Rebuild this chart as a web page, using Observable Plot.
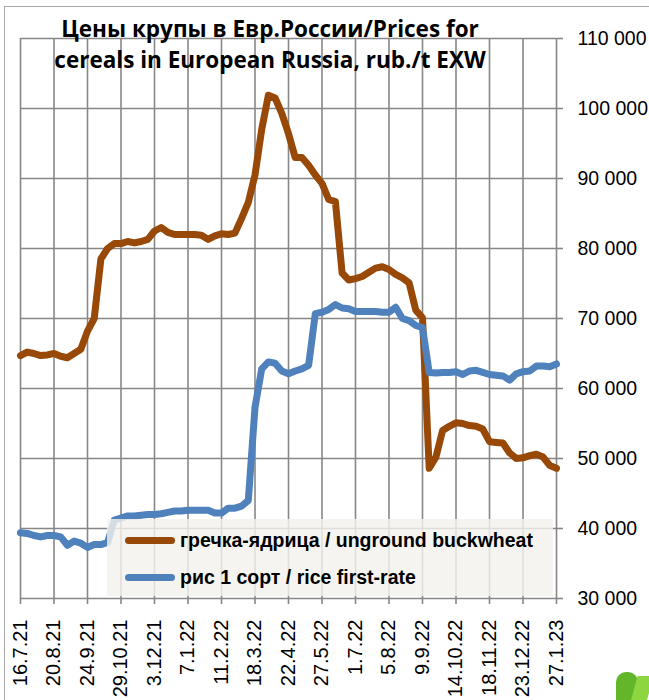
<!DOCTYPE html>
<html>
<head>
<meta charset="utf-8">
<script src="https://cdn.jsdelivr.net/npm/d3@7"></script>
<script src="https://cdn.jsdelivr.net/npm/@observablehq/plot@0.6"></script>
<style>
  html, body { margin: 0; padding: 0; background: #fff; }
  #wrap { position: relative; width: 649px; height: 700px; overflow: hidden; }
  #frame { position: absolute; left: 4px; top: 6px; width: 700px; height: 760px; border: 1.5px solid #a9a9a9; box-sizing: border-box; }
  #chart { position: absolute; left: 0; top: 0; }
  #title { position: absolute; left: 0; top: 13px; width: 540px; text-align: center; font-family: "Open Sans", sans-serif; font-weight: 700; font-size: 22.5px; line-height: 31px; color: #000; white-space: nowrap; }
  #legend { position: absolute; left: 107px; top: 519px; width: 446px; height: 77px; background: rgba(243,242,237,0.82); font-family: "Liberation Sans", Arial, sans-serif; font-weight: 700; font-size: 19.5px; color: #000; }
  .item { position: absolute; left: 18px; height: 22px; display: flex; align-items: center; white-space: nowrap; }
  .sw { width: 50px; height: 7px; border-radius: 4px; margin-right: 5px; }
  #logo1 { position: absolute; left: 616px; top: 672px; width: 22px; height: 30px; border-radius: 10px 10px 0 0; background: #63b52a; }
  #logo2 { position: absolute; left: 634px; top: 676px; width: 16px; height: 26px; background: #8dd63f; transform: skewX(-15deg); }
</style>
</head>
<body>
<div id="wrap">
  <div id="frame"></div>
  <div id="chart"></div>
  <div id="title">Цены крупы в Евр.России/Prices for<br>cereals in European Russia, rub./t EXW</div>
  <div id="legend"></div>
  <div id="logo1"></div>
  <div id="logo2"></div>
</div>
<script>
// x tick labels (every 5 weeks)
const tickLabels = ["16.7.21","20.8.21","24.9.21","29.10.21","3.12.21","7.1.22","11.2.22","18.3.22","22.4.22","27.5.22","1.7.22","5.8.22","9.9.22","14.10.22","18.11.22","23.12.22","27.1.23"];

// weekly prices, rub./t
const buckwheat = [64700,65200,65000,64700,64800,65000,64600,64400,65000,65600,
  68200,70000,78500,80000,80700,80700,81000,80800,81000,81300,
  82500,83000,82300,82000,82000,82000,82000,81900,81300,81800,
  82100,82000,82200,84300,86600,90500,97000,101900,101500,99300,
  96400,93000,93000,91900,90500,89300,87000,86700,76500,75500,
  75700,76000,76600,77200,77400,77000,76300,75800,75100,71200,
  70100,48600,50200,54000,54600,55100,55000,54700,54600,54200,
  52400,52300,52200,50800,50000,50100,50400,50600,50200,49000,48600];

const rice = [39400,39300,39000,38800,39000,39000,38800,37600,38200,37900,
  37300,37700,37700,38000,41200,41500,41800,41800,41900,42000,
  42000,42100,42300,42500,42500,42600,42600,42600,42600,42200,
  42200,42900,42900,43200,44000,57300,62800,63800,63600,62500,
  62100,62500,62800,63300,70700,70900,71300,72000,71500,71400,
  71000,71000,71000,71000,70900,70900,71600,70000,69700,69000,
  68700,62300,62200,62300,62300,62400,62000,62500,62600,62300,
  62000,61900,61800,61200,62100,62400,62500,63200,63200,63100,63500];

const seriesNames = ["гречка-ядрица / unground buckwheat", "рис 1 сорт / rice first-rate"];
const seriesColors = ["#984807", "#4f81bd"];
const yTicks = [30000,40000,50000,60000,70000,80000,90000,100000,110000];

const table = [
  ...buckwheat.map((v, i) => ({i, v, s: seriesNames[0]})),
  ...rice.map((v, i) => ({i, v, s: seriesNames[1]}))
];
const xTicks = tickLabels.map((_, k) => k * 5);
const fmt = d => d3.format(",")(d).replace(/,/g, " ");

const chart = Plot.plot({
  width: 649,
  height: 700,
  marginLeft: 20,
  marginRight: 93,
  marginTop: 38,
  marginBottom: 102,
  style: {fontFamily: "'Liberation Sans', Arial, sans-serif", color: "#000", background: "transparent", overflow: "visible"},
  x: {domain: [0, buckwheat.length - 1], axis: null},
  y: {domain: [30000, 110000], axis: null},
  color: {domain: seriesNames, range: seriesColors},
  marks: [
    Plot.gridX(xTicks, {stroke: "#878787", strokeOpacity: 1, strokeWidth: 1.6}),
    Plot.gridY(yTicks, {stroke: "#878787", strokeOpacity: 1, strokeWidth: 1.6}),
    Plot.axisX(xTicks, {tickSize: 6, tickPadding: 15, tickRotate: -90, tickFormat: d => tickLabels[d / 5], fontSize: 20, stroke: "#878787", strokeWidth: 1.6, label: null}),
    Plot.axisY(yTicks, {anchor: "right", tickSize: 6, tickPadding: 15, tickFormat: fmt, fontSize: 19.5, stroke: "#878787", strokeWidth: 1.6, label: null}),
    Plot.line(table, {x: "i", y: "v", z: "s", stroke: "s", strokeWidth: 7, strokeLinejoin: "round", strokeLinecap: "round"})
  ]
});
chart.querySelectorAll("g[aria-label='x-axis tick label'] text, g[aria-label='y-axis tick label'] text").forEach(t => t.setAttribute("fill", "#000"));
document.getElementById("chart").appendChild(chart);

const legend = document.getElementById("legend");
seriesNames.forEach((name, k) => {
  const it = document.createElement("div");
  it.className = "item";
  it.style.top = (10 + k * 37) + "px";
  const sw = document.createElement("div");
  sw.className = "sw";
  sw.style.background = seriesColors[k];
  const tx = document.createElement("span");
  tx.textContent = name;
  it.appendChild(sw);
  it.appendChild(tx);
  legend.appendChild(it);
});
</script>
</body>
</html>
